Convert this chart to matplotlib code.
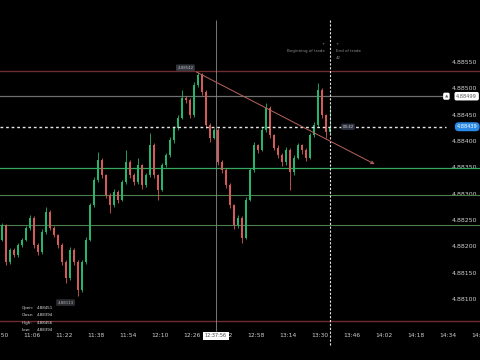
import matplotlib
matplotlib.use("Agg")
import matplotlib.pyplot as plt

# --- data -------------------------------------------------------------------
# 2-minute candles starting at 10:51, minutes counted from 10:00
first_time = 51
candle_step = 2
first_open = 4.88212
closes = [
    4.88240, 4.88170, 4.88193, 4.88183, 4.88202, 4.88212, 4.88235, 4.88254, 4.88202, 4.88189,
    4.88227, 4.88265, 4.88235, 4.88221, 4.88202, 4.88170, 4.88140, 4.88193, 4.88170, 4.88117,
    4.88170, 4.88212, 4.88278, 4.88326, 4.88364, 4.88335, 4.88297, 4.88278, 4.88303, 4.88288,
    4.88322, 4.88360, 4.88335, 4.88322, 4.88354, 4.88316, 4.88335, 4.88392, 4.88335, 4.88307,
    4.88354, 4.88373, 4.88402, 4.88425, 4.88444, 4.88482, 4.88478, 4.88449, 4.88506, 4.88525,
    4.88493, 4.88430, 4.88406, 4.88421, 4.88360, 4.88345, 4.88316, 4.88278, 4.88240, 4.88254,
    4.88216, 4.88288, 4.88345, 4.88392, 4.88383, 4.88421, 4.88463, 4.88411, 4.88387, 4.88373,
    4.88360, 4.88383, 4.88341, 4.88368, 4.88392, 4.88383, 4.88368, 4.88411, 4.88430, 4.88497,
    4.88449, 4.88417, 4.88427,
]
# wick lengths above / below the body, in units of 0.00001
wick_up = [
    4, 3, 4, 3, 5, 3, 4, 6, 3, 4, 5, 10, 3, 4, 3, 4, 3, 5, 3, 4,
    3, 5, 4, 6, 15, 4, 3, 4, 5, 3, 4, 23, 3, 4, 13, 3, 5, 23, 4, 3,
    4, 5, 6, 4, 5, 15, 4, 3, 6, 6, 4, 3, 5, 4, 3, 4, 3, 4, 3, 5,
    4, 5, 4, 6, 3, 5, 10, 4, 3, 5, 4, 6, 3, 5, 4, 3, 4, 5, 6, 13,
    4, 3, 42,
]
wick_dn = [
    3, 5, 3, 4, 3, 4, 3, 4, 5, 6, 3, 4, 5, 3, 5, 6, 10, 4, 6, 11,
    4, 3, 3, 3, 4, 5, 6, 15, 3, 6, 3, 4, 5, 6, 3, 8, 4, 3, 6, 19,
    3, 4, 3, 5, 4, 3, 6, 5, 3, 4, 5, 6, 8, 3, 6, 5, 6, 5, 8, 6,
    10, 3, 3, 4, 5, 3, 4, 6, 5, 6, 8, 5, 34, 6, 3, 8, 6, 3, 4, 3,
    5, 11, 4,
]

price_ticks = ["4.88550", "4.88500", "4.88450", "4.88400", "4.88350",
               "4.88300", "4.88250", "4.88200", "4.88150", "4.88100"]
time_ticks = ["10:50", "11:06", "11:22", "11:38", "11:54", "12:10", "12:26", "12:42",
              "12:58", "13:14", "13:30", "13:46", "14:02", "14:18", "14:34", "14:50"]

# drawn levels
resist_top = 4.88533
resist_bottom = 4.88058
alert_level = 4.88485
current_price = 4.88427
green_levels = [4.88349, 4.88297, 4.88240]
trend_start = (148.2, 4.88531)
trend_end = (237.3, 4.88356)
crosshair_time = 157.93
trade_end_time = 215.0
peak_point = (142.7, 4.88539)
low_point = (82.8, 4.88093)

ohlc_names = ["Open:", "Close:", "High:", "Low:"]
ohlc_values = ["4.88451", "4.88394", "4.88456", "4.88394"]


def hhmm_to_min(s):
    h, m = s.split(":")
    return (int(h) - 10) * 60 + int(m)


BG = "#000000"
GREEN = "#27b46c"
RED = "#d65a55"
TXT = "#cfcfcf"

fig = plt.figure(figsize=(4.8, 3.6), dpi=100)
fig.patch.set_facecolor(BG)
ax = fig.add_axes([0, 0, 1, 1])
ax.set_facecolor(BG)

# candles
times = [first_time + candle_step * i for i in range(len(closes))]
opens = [first_open] + closes[:-1]
for t, o, c, wu, wd in zip(times, opens, closes, wick_up, wick_dn):
    col = GREEN if c >= o else RED
    top, bot = max(o, c), min(o, c)
    ax.vlines(t, bot - wd * 1e-5, top + wu * 1e-5, color=col, linewidth=0.6, zorder=3)
    ax.bar(t, max(top - bot, 0.000012), bottom=bot, width=1.35, color=col,
           linewidth=0, zorder=3)

# horizontal levels
ax.axhline(resist_top, color="#6e2c30", linewidth=1.0, zorder=2)
ax.axhline(resist_bottom, color="#6e2c30", linewidth=1.0, zorder=2)
ax.axhline(alert_level, xmax=0.925, color="#6f6f6f", linewidth=0.9, zorder=2)
ax.axhline(green_levels[0], color="#36a85e", linewidth=0.9, zorder=2)
for lvl in green_levels[1:]:
    ax.axhline(lvl, color="#4d7f4d", linewidth=0.8, zorder=2)
ax.axhline(current_price, xmax=0.93, color="#e6e6e6", linewidth=1.0,
           linestyle=(0, (2, 2)), zorder=4)

# vertical lines
ax.vlines(crosshair_time, 4.88039, 4.88630, color="#8a8a8a", linewidth=0.6, zorder=2)
ax.vlines(trade_end_time, 4.88012, 4.88630, color="#e6e6e6", linewidth=0.8,
          linestyles=[(0, (2, 1.5))], zorder=4)

# trend line with arrow
ax.annotate("", xy=trend_end, xytext=trend_start,
            arrowprops=dict(arrowstyle="->", color="#b8645f", lw=0.7,
                            shrinkA=0, shrinkB=0, mutation_scale=5), zorder=4)

# trade markers
ax.text(trade_end_time - 2.5, 4.88571, "Beginning of trade", color="#8c8c8c",
        fontsize=2.9, ha="right", va="center")
ax.text(trade_end_time - 2.5, 4.88584, "+", color="#8c8c8c", fontsize=3, ha="right", va="center")
ax.text(trade_end_time + 3.0, 4.88571, "End of trade", color="#8c8c8c",
        fontsize=2.9, ha="left", va="center")
ax.text(trade_end_time + 3.0, 4.88558, "42", color="#8c8c8c", fontsize=2.9, ha="left", va="center")
ax.text(trade_end_time + 3.0, 4.88584, "+", color="#8c8c8c", fontsize=3, ha="left", va="center")

# price boxes
ax.text(peak_point[0], peak_point[1], "4.88542", color="#b0b0b0", fontsize=2.8,
        ha="center", va="center", zorder=5,
        bbox=dict(boxstyle="round,pad=0.35", fc="#33363d", ec="none"))
ax.text(low_point[0], low_point[1], "4.88113", color="#b0b0b0", fontsize=2.8,
        ha="center", va="center", zorder=5,
        bbox=dict(boxstyle="round,pad=0.35", fc="#2a2c31", ec="none"))
ax.text(trade_end_time + 9.0, current_price, "00:42", color="#d0d0d0", fontsize=2.8,
        ha="center", va="center", zorder=5,
        bbox=dict(boxstyle="round,pad=0.3", fc="#2c3240", ec="none"))
ax.text(0.995, current_price, "4.88439", transform=ax.get_yaxis_transform(),
        color="white", fontsize=3.6, ha="right", va="center", zorder=6,
        bbox=dict(boxstyle="round,pad=0.4,rounding_size=0.8", fc="#2b8ae6", ec="none"))
ax.text(0.994, alert_level, "4.88499", transform=ax.get_yaxis_transform(),
        color="#555555", fontsize=3.6, ha="right", va="center", zorder=6,
        bbox=dict(boxstyle="round,pad=0.35", fc="white", ec="none"))
ax.text(0.93, alert_level, "\u25b2", transform=ax.get_yaxis_transform(),
        color="#666666", fontsize=3.2, ha="center", va="center", zorder=6,
        bbox=dict(boxstyle="round,pad=0.35", fc="white", ec="none"))

# OHLC readout
for i, (name, val) in enumerate(zip(ohlc_names, ohlc_values)):
    y = 0.1444 - i * 0.0204
    ax.text(0.046, y, name, transform=ax.transAxes, color="#e0e0e0", fontsize=2.9,
            ha="left", va="center")
    ax.text(0.077, y, val, transform=ax.transAxes, color="#e0e0e0", fontsize=2.9,
            ha="left", va="center")

# crosshair time box
ax.text(crosshair_time, 0.0667, "12:37:56", transform=ax.get_xaxis_transform(),
        color="#444444", fontsize=3.5, ha="center", va="center", zorder=6,
        bbox=dict(boxstyle="square,pad=0.35", fc="white", ec="none"))

# axes / ticks drawn inside the plot like the app does
ax.set_xlim(50.65, 288.27)
ax.set_ylim(4.879838, 4.886678)
ax.set_yticks([float(p) for p in price_ticks])
ax.set_yticklabels(price_ticks)
ax.yaxis.tick_right()
ax.tick_params(axis="y", length=0, pad=-2, labelsize=4.5, labelcolor=TXT)
for lab in ax.get_yticklabels():
    lab.set_horizontalalignment("right")
ax.set_xticks([hhmm_to_min(s) for s in time_ticks])
ax.set_xticklabels(time_ticks)
ax.tick_params(axis="x", length=0, pad=-17.3, labelsize=4.3, labelcolor=TXT)
for lab in ax.get_xticklabels():
    lab.set_verticalalignment("center")
for spine in ax.spines.values():
    spine.set_visible(False)

fig.savefig("out.png", dpi=100, facecolor=BG)
